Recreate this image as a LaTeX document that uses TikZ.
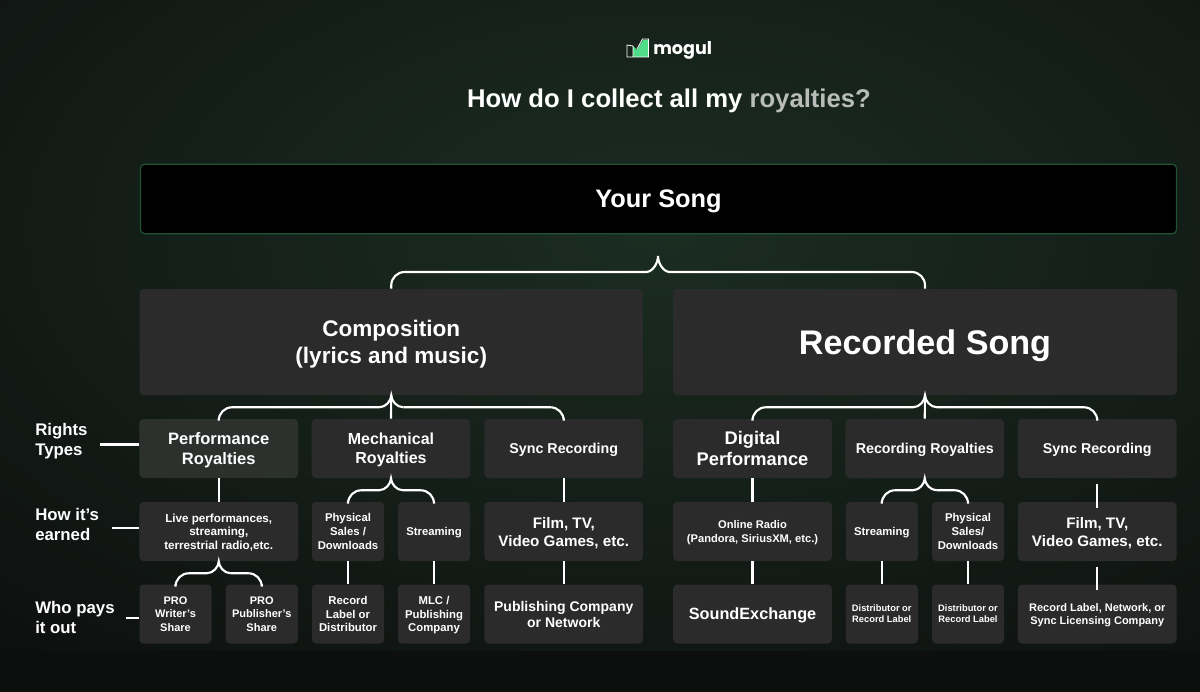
\documentclass[tikz,border=0pt]{standalone}
\usepackage{fontspec}
\setmainfont{Liberation Sans}
\newfontfamily\logofont{Poppins}
\definecolor{bgGlow}{HTML}{1B2D22}
\definecolor{bgEdge}{HTML}{0D0E0E}
\definecolor{cellFill}{HTML}{2B2B2B}
\definecolor{perfFill}{HTML}{2C312E}
\definecolor{songEdge}{HTML}{1E5232}
\definecolor{logoGreen}{HTML}{4FDD8A}
\definecolor{titleGrey}{HTML}{B8BCBA}
\pgfdeclareradialshading{bgshade}{\pgfpoint{0bp}{0bp}}{color(0bp)=(bgGlow);color(35bp)=(bgEdge);color(50bp)=(bgEdge)}
\newcommand*{\Txt}[2]{\fontsize{#1}{#2}\selectfont\bfseries}
% brace: tip, left child, right child
\newcommand*{\Curly}[4][9pt]{
    \draw[link,rounded corners=10pt] (#3.north) |- ([xshift=-9pt,yshift=-#1]#2);
    \draw[link,rounded corners=10pt] (#4.north) |- ([xshift=9pt,yshift=-#1]#2);
    \draw[link] ([xshift=-9pt,yshift=-#1]#2) .. controls ([xshift=-4pt,yshift=-#1]#2) and ([yshift={-0.45*#1}]#2) .. (#2)
        .. controls ([yshift={-0.45*#1}]#2) and ([xshift=4pt,yshift=-#1]#2) .. ([xshift=9pt,yshift=-#1]#2);
}
\tikzset{
    cell/.style={fill=cellFill, rounded corners=3pt, text=white, align=center, inner sep=0pt, text depth=0pt},
    wide/.style={cell, minimum width=118.9pt, minimum height=44.25pt},
    half/.style={cell, minimum width=54pt, minimum height=44.25pt},
    link/.style={draw=white, line width=1.6pt},
    side/.style={text=white, align=left, anchor=west, inner sep=0pt, font=\Txt{12.6}{15}}
}

\begin{document}
\begin{tikzpicture}[x=0.75pt, y=-0.75pt]
    \useasboundingbox (0,0) rectangle (1200,692);
    \fill[bgEdge] (0,0) rectangle (1200,692);
    \begin{scope}
        \clip (0,0) rectangle (1200,692);
        \shade[shading=bgshade] (-100,-190) rectangle (1420,650);
    \end{scope}

    % header
    \fill[logoGreen] (633,46) -- (637,50) -- (643,40) -- (648.5,39.5) -- (648.5,57) -- (633,57) -- cycle;
    \draw[white, line width=0.6pt] (633,46) -- (627,45) -- (627,57) -- (633,57) -- cycle;
    \draw[white, line width=0.6pt] (637,49) -- (642.5,39) -- (648.5,39) -- (648.5,57) -- (633,57);
    \node[text=white, anchor=west, inner sep=0pt, font=\logofont\Txt{13.2}{16}] (brand) at (653,50) {mogul};
    \node[text=white, inner sep=0pt, text depth=0pt, font=\Txt{19.25}{23}] (title) at (669,98) {How do I collect all my \textcolor{titleGrey}{royalties?}};

    \node[fill=black, draw=songEdge, line width=0.9pt, rounded corners=3pt, minimum width=777pt, minimum height=52pt,
        text=white, text depth=0pt, font=\Txt{19}{23}] (song) at (658.5,199) {Your Song};

    % top row
    \node[cell, minimum width=377.6pt, minimum height=79.5pt, font=\Txt{16.9}{20}] (comp) at (391.25,342) {Composition\\(lyrics and music)};
    \node[cell, minimum width=378pt, minimum height=79.5pt, font=\Txt{25.6}{30}] (rec) at (925,342) {Recorded Song};

    % rights types
    \node[wide, fill=perfFill, font=\Txt{12.4}{15}] (perf) at (218.75,448.5) {Performance\\Royalties};
    \node[wide, font=\Txt{12}{14}] (mech) at (391,448.5) {Mechanical\\Royalties};
    \node[wide, font=\Txt{10.7}{14}] (syncA) at (563.75,448.5) {Sync Recording};
    \node[wide, font=\Txt{13.7}{15.75}] (digi) at (752.5,448.5) {Digital\\Performance};
    \node[wide, font=\Txt{10.7}{14}] (recr) at (924.75,448.5) {Recording Royalties};
    \node[wide, font=\Txt{10.7}{14}] (syncB) at (1097.25,448.5) {Sync Recording};

    % how it's earned
    \node[wide, font=\Txt{8.75}{10.25}] (live) at (218.75,531.5) {Live performances,\\streaming,\\terrestrial radio,etc.};
    \node[half, font=\Txt{8.5}{10.25}] (physA) at (348,531.5) {Physical\\Sales /\\Downloads};
    \node[half, font=\Txt{8.5}{10.25}] (strA) at (434,531.5) {Streaming};
    \node[wide, font=\Txt{11.4}{13.5}] (filmA) at (563.75,531.5) {Film, TV,\\Video Games, etc.};
    \node[wide, font=\Txt{8.35}{10.25}] (radio) at (752.5,531.5) {Online Radio\\(Pandora, SiriusXM, etc.)};
    \node[half, font=\Txt{8.5}{10.25}] (strB) at (881.75,531.5) {Streaming};
    \node[half, font=\Txt{8.5}{10.25}] (physB) at (968,531.5) {Physical\\Sales/\\Downloads};
    \node[wide, font=\Txt{11.4}{13.5}] (filmB) at (1097.25,531.5) {Film, TV,\\Video Games, etc.};

    % who pays
    \node[half, font=\Txt{8.25}{10.25}] (writer) at (175.5,614) {PRO\\Writer’s\\Share};
    \node[half, font=\Txt{8.25}{10.25}] (publ) at (261.75,614) {PRO\\Publisher’s\\Share};
    \node[half, font=\Txt{8.5}{10.25}] (label) at (348,614) {Record\\Label or\\Distributor};
    \node[half, font=\Txt{8.5}{10.25}] (mlc) at (434,614) {MLC /\\Publishing\\Company};
    \node[wide, font=\Txt{10.5}{12}] (pubco) at (563.75,614) {Publishing Company\\or Network};
    \node[wide, font=\Txt{12.2}{15}] (sound) at (752.5,614) {SoundExchange};
    \node[half, font=\Txt{7}{8.25}] (distA) at (881.75,614) {Distributor or\\Record Label};
    \node[half, font=\Txt{7}{8.25}] (distB) at (968,614) {Distributor or\\Record Label};
    \node[wide, font=\Txt{8.25}{10.25}] (sync) at (1097.25,614) {Record Label, Network, or\\Sync Licensing Company};

    % side labels
    \node[side] (rights) at (35,441.5) {Rights\\Types};
    \node[side] (earned) at (35,524.5) {How it’s\\earned};
    \node[side] (payer) at (35,617.5) {Who pays\\it out};
    \coordinate (rightsEnd) at (100,444.5);
    \coordinate (earnedEnd) at (112,528);
    \coordinate (payerEnd) at (126,618);
    \draw[link] (rightsEnd) -- (perf.west |- rightsEnd);
    \draw[link] (earnedEnd) -- (live.west |- earnedEnd);
    \draw[link] (payerEnd) -- (writer.west |- payerEnd);

    % braces
    \coordinate (tipTop) at (658,256);
    \Curly[12pt]{tipTop}{comp}{rec}
    \Curly{comp.south}{perf}{syncA}
    \Curly{rec.south}{digi}{syncB}
    \Curly{mech.south}{physA}{strA}
    \Curly{recr.south}{strB}{physB}
    \Curly{live.south}{writer}{publ}

    % stems
    \foreach \a/\b in {comp/mech, rec/recr, perf/live, syncA/filmA, filmA/pubco, digi/radio, radio/sound,
        physA/label, strA/mlc, strB/distA, physB/distB}
        \draw[link] (\a.south) -- (\b.north);
    \foreach \a/\b in {syncB/filmB, filmB/sync}
        \draw[link] ([yshift=-4.5pt]\a.south) -- ([yshift=-4.5pt]\b.north);
\end{tikzpicture}
\end{document}
